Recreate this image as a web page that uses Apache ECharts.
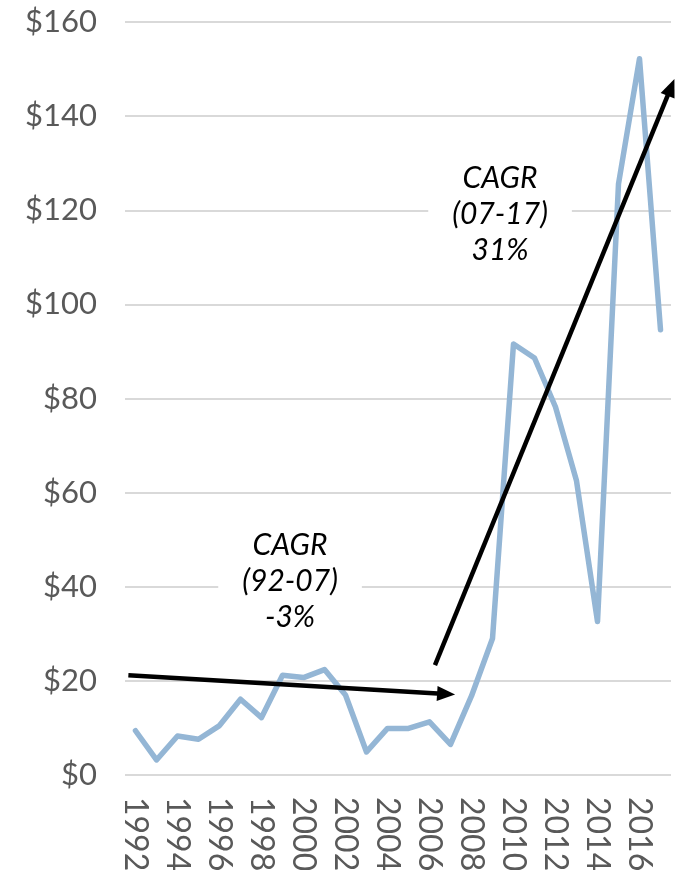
<!DOCTYPE html>
<html>
<head>
<meta charset="utf-8">
<script src="https://cdn.jsdelivr.net/npm/echarts@6/dist/echarts.min.js"></script>
<style>
  html, body { margin: 0; padding: 0; background: #fff; }
  #chart { width: 682px; height: 870px; }
</style>
</head>
<body>
<div id="chart"></div>
<script>
// years on the category axis
var years = ['1992', '1993', '1994', '1995', '1996', '1997', '1998', '1999', '2000', '2001',
             '2002', '2003', '2004', '2005', '2006', '2007', '2008', '2009', '2010', '2011',
             '2012', '2013', '2014', '2015', '2016', '2017'];

// values in $
var values = [9.4, 3.2, 8.3, 7.6, 10.5, 16.1, 12.2, 21.2, 20.7, 22.4,
              17.0, 4.9, 9.9, 9.9, 11.3, 6.5, 16.8, 29.0, 91.6, 88.6,
              78.2, 62.5, 32.6, 125.6, 152.2, 94.6];

// trend arrows, [year, value] from -> to
var arrowEarly = [[1991.66, 21.2], [2006.79, 17.2]];
var arrowLate = [[2006.26, 23.35], [2017.5, 146.1]];

// CAGR notes, [year, value] of their centre
var noteEarly = { at: [1999.36, 41.2], text: 'CAGR\n(92-07)\n-3%' };
var noteLate = { at: [2009.36, 119.2], text: 'CAGR\n(07-17)\n31%' };

var font = 'Lato, "Open Sans", "DejaVu Sans", sans-serif';
var grey = '#595959';

var chart = echarts.init(document.getElementById('chart'));

function noteLabel() {
    return {
        show: true,
        position: 'inside',
        formatter: function (p) { return p.name; },
        color: '#000',
        fontFamily: font,
        fontStyle: 'italic',
        fontSize: 30,
        lineHeight: 36,
        backgroundColor: '#fff',
        padding: [0, 24]
    };
}

chart.setOption({
    animation: false,
    grid: {
        left: 125, right: 11, top: 22, bottom: 95,
        containLabel: false,
        outerBoundsMode: 'none'   // year labels run off the bottom like the original
    },
    xAxis: [
        {
            type: 'category',
            data: years,
            boundaryGap: true,
            axisLine: { show: false },
            axisTick: { show: false },
            axisLabel: {
                interval: 1,
                rotate: -90,
                margin: 22,
                color: grey,
                fontFamily: font,
                fontSize: 32
            }
        },
        {
            // hidden helper axis for the arrows and notes
            type: 'value',
            min: 1991.5,
            max: 2017.5,
            show: false
        }
    ],
    yAxis: {
        type: 'value',
        min: 0,
        max: 160,
        interval: 20,
        axisLine: { show: false },
        axisTick: { show: false },
        axisLabel: {
            formatter: '${value}',
            margin: 28,
            color: grey,
            fontFamily: font,
            fontSize: 31
        },
        splitLine: { lineStyle: { color: '#d9d9d9', width: 2 } }
    },
    series: [
        {
            type: 'line',
            data: values,
            showSymbol: false,
            symbol: 'none',
            lineStyle: { color: '#94b6d5', width: 5.5, join: 'round', cap: 'round' },
            z: 2
        },
        {
            type: 'line',
            xAxisIndex: 1,
            data: [],
            z: 3,
            markLine: {
                silent: true,
                symbol: ['none', 'triangle'],
                symbolSize: [15, 18],
                label: { show: false },
                lineStyle: { color: '#000', width: 4.5, type: 'solid' },
                emphasis: { disabled: true },
                data: [
                    [{ coord: arrowEarly[0] }, { coord: arrowEarly[1] }],
                    [{ coord: arrowLate[0] }, { coord: arrowLate[1] }]
                ]
            },
            markPoint: {
                silent: true,
                symbol: 'circle',
                symbolSize: 1,
                itemStyle: { color: 'rgba(0,0,0,0)' },
                label: noteLabel(),
                data: [
                    { name: noteEarly.text, coord: noteEarly.at },
                    { name: noteLate.text, coord: noteLate.at }
                ]
            }
        }
    ]
});
</script>
</body>
</html>
